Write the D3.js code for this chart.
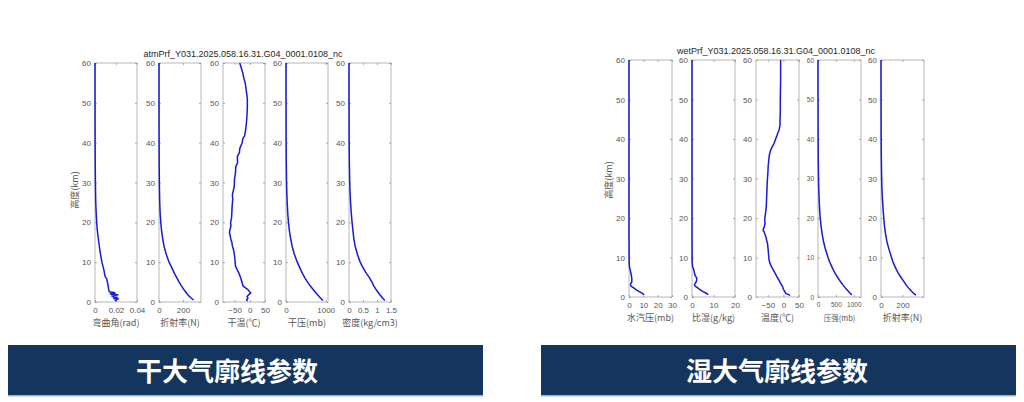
<!DOCTYPE html>
<html><head><meta charset="utf-8">
<script src="https://cdn.jsdelivr.net/npm/d3@7"></script>
<style>body{margin:0;background:#fff}svg{display:block}</style></head>
<body>
<svg id="c" width="1024" height="402"></svg>
<script>
// ---------- DATA ----------
const altTicks = [0,10,20,30,40,50,60];

// Dry atmosphere profiles (altitude km / value)
const dryBendAlt = [0.2,0.5,0.8,1.0,1.2,1.5,1.8,2.0,2.3,2.6,3.0,3.5,4.0,5.0,5.8,6.3,7.0,8.0,10,12,14,16,18,20,22,25,28,30,35,40,50,60];
const dryBend    = [0.0205,0.019,0.0222,0.0175,0.021,0.016,0.0218,0.0145,0.019,0.0135,0.0132,0.0128,0.0126,0.0118,0.0112,0.0098,0.0092,0.0085,0.0066,0.0052,0.0041,0.0031,0.0022,0.0016,0.0012,0.0007,0.0005,0.0004,0.0002,0.0001,0.00003,0.00001];
const dryRefAlt  = [0.5,1,1.5,2,3,4,5,6,7,8,9,10,12,14,16,18,20,22,25,28,30,35,40,50,60];
const dryRef     = [288,268,250,235,210,188,168,150,132,116,100,84,60,42,30,21,15,10,6,4,3,1.5,0.8,0.2,0.05];
const dryTempAlt = [0.2,0.6,1.0,1.4,1.8,2.3,2.7,3.1,3.5,4.0,5.0,5.6,6.5,7.3,8.2,9.0,10,11.5,13,14,15,15.7,16.5,17.5,18.2,19,20,21,22.4,24,25.8,27,29,31,32.4,34,35,36.5,37.5,38.5,40,41,41.7,43,45,47,49,51,53.4,55,56,57.5,58.5,60];
const dryTemp    = [-8,-10,-6,-9,-4,3,-2,-6,-13,-22,-26,-28,-32,-36,-42,-47,-48,-50,-53,-57,-59,-62,-64,-67,-65,-62,-63,-60,-59,-58,-56,-57,-51,-50,-47,-46,-40,-41,-34,-33,-25,-23,-17,-14,-11,-9,-8,-8,-12,-15,-19,-23,-27,-33];
const dryPresAlt = [0.4,1,2,3,4,5,6,7,8,9,10,12,14,16,18,20,22,25,28,30,35,40,50,60];
const dryPres    = [930,870,780,695,615,545,480,425,375,330,285,210,155,115,85,62,46,30,19,14,7,3.5,0.9,0.3];
const dryDensAlt = [0.4,1,2,3,4,5,6,7,8,9,10,12,14,16,18,20,22,25,28,30,35,40,50,60];
const dryDens    = [1.28,1.2,1.08,0.98,0.89,0.82,0.74,0.64,0.55,0.47,0.4,0.3,0.22,0.17,0.14,0.11,0.085,0.055,0.035,0.025,0.012,0.005,0.001,0.0003];

// Wet atmosphere profiles
const wetVapAlt  = [0.6,1.0,1.3,1.7,2.1,2.5,2.7,3.1,3.5,3.8,4.3,4.7,5.1,5.5,6.2,6.8,7.6,8.5,10,15,20,30,40,50,60];
const wetVap     = [10.6,9.0,7.5,5.6,4.0,2.5,1.6,1.0,1.4,1.9,2.0,1.9,1.8,1.6,1.2,0.9,0.3,0.15,0.08,0.02,0.01,0,0,0,0];
const wetHumAlt  = [0.6,1.0,1.3,1.7,2.1,2.5,2.7,3.1,3.5,3.8,4.3,4.7,5.1,5.5,6.2,6.8,7.6,8.5,10,15,20,30,40,50,60];
const wetHum     = [7.6,6.5,5.3,4.2,3.1,2.2,1.6,1.1,1.5,1.9,2.2,2.2,1.9,1.4,1.1,0.9,0.3,0.12,0.05,0.01,0,0,0,0,0];
const wetTempAlt = [0.4,0.85,1.3,1.7,2.1,2.5,3.3,4.2,5.0,5.9,6.8,7.6,8.5,9.3,10.2,11,12,12.7,13.5,14.4,15.2,16,16.5,16.9,17.3,17.8,18.6,19.5,20.3,21.5,22.8,25,27,29,31.3,33,34.7,36,37.2,38,38.9,39.8,40.6,41.5,42.3,43.5,44.8,47,49.9,55,60];
const wetTemp    = [22,8,5,2,-1,-2,-8,-14,-20,-26,-32,-38,-43,-46,-47,-48,-49,-50,-51,-54,-56,-60,-62,-65,-64,-61,-59,-60,-59,-57,-55,-54,-53,-52,-50,-49,-47,-45,-41,-36,-30,-26,-22,-18,-14,-11,-11,-10,-10,-9,-9];
const wetPresAlt = [0.5,1,2,3,4,5,6,7,8,9,10,12,14,16,18,20,22,25,28,30,35,40,50,60];
const wetPres    = [945,890,790,700,618,545,478,420,368,322,280,210,155,115,85,62,46,30,19,14,7,3.5,0.9,0.3];
const wetRefAlt  = [0.5,1,1.5,2,3,4,5,6,7,8,9,10,12,14,16,18,20,22,25,28,30,35,40,50,60];
const wetRef     = [325,300,282,265,235,210,185,162,142,125,110,98,75,55,42,32,26,20,13,8,6,3,1.5,0.4,0.1];

// Axis domains and ticks
const dryDomains = [[0,0.04],[0,350],[-88,50],[0,1060],[0,1.5]];
const dryTicks   = [[0,0.02,0.04],[0,200],[-50,0,50],[0,1000],[0,0.5,1,1.5]];
const dryLabels  = ["弯曲角(rad)","折射率(N)","干温(℃)","干压(mb)","密度(kg/cm3)"];
const wetDomains = [[0,30],[0,20],[-88,50],[0,1200],[0,400]];
const wetTicks   = [[0,10,20,30],[0,10,20],[-50,0,50],[0,500,1000],[0,200]];
const wetLabels  = ["水汽压(mb)","比湿(g/kg)","温度(℃)","压强(mb)","折射率(N)"];

const dryTitle = "atmPrf_Y031.2025.058.16.31.G04_0001.0108_nc";
const wetTitle = "wetPrf_Y031.2025.058.16.31.G04_0001.0108_nc";
const yLabel = "高度(km)";
const bannerTexts = ["干大气廓线参数","湿大气廓线参数"];

// ---------- DRAW ----------
const svg = d3.select("#c");
svg.append("rect").attr("width",1024).attr("height",402).attr("fill","#fff");

const LAT = "'Liberation Sans', Arial, sans-serif";
const CJK = "'Noto Sans CJK SC', sans-serif";
const LINE = "#1a1ad2";

function drawGroup(cfg){
  const y = d3.scaleLinear().domain([0,60]).range([cfg.yBot, cfg.yTop]);
  cfg.series.forEach((s,i)=>{
    const left = cfg.lefts[i], right = left + cfg.width;
    const fs = (cfg.small && cfg.small[i]) ? 6.5 : 8;
    const x = d3.scaleLinear().domain(cfg.domains[i]).range([left,right]);
    const g = svg.append("g");
    g.append("rect").attr("x",left).attr("y",cfg.yTop).attr("width",cfg.width)
      .attr("height",cfg.yBot-cfg.yTop).attr("fill","#fff").attr("stroke","#a6a6a6").attr("stroke-width",0.8);
    const style = sel => {
      sel.select(".domain").remove();
      sel.selectAll(".tick line").attr("stroke","#8c8c8c").attr("stroke-width",0.7);
      sel.selectAll(".tick text").attr("fill","#555").style("font-family",LAT).style("font-size",fs+"px");
    };
    g.append("g").attr("transform",`translate(${left},0)`)
      .call(d3.axisLeft(y).tickValues(altTicks).tickSizeInner(-2).tickSizeOuter(0).tickPadding(4)).call(style);
    g.append("g").attr("transform",`translate(${right},0)`)
      .call(d3.axisRight(y).tickValues(altTicks).tickSizeInner(-2).tickSizeOuter(0).tickFormat("")).call(style);
    g.append("g").attr("transform",`translate(0,${cfg.yBot})`)
      .call(d3.axisBottom(x).tickValues(cfg.ticks[i]).tickSizeInner(-2).tickSizeOuter(0).tickPadding(5).tickFormat(d3.format("~g"))).call(style);
    g.append("g").attr("transform",`translate(0,${cfg.yTop})`)
      .call(d3.axisTop(x).tickValues(cfg.ticks[i]).tickSizeInner(-2).tickSizeOuter(0).tickFormat("")).call(style);
    const pts = d3.zip(s[0], s[1]);
    g.append("path").datum(pts)
      .attr("d", d3.line().x(d=>x(d[1])).y(d=>y(d[0])))
      .attr("fill","none").attr("stroke",LINE).attr("stroke-width",1.5).attr("stroke-linejoin","round");
    g.append("text").attr("x",(left+right)/2).attr("y",cfg.xlabelY)
      .attr("text-anchor","middle").attr("fill","#555")
      .style("font-family",CJK).style("font-size",(fs+1)+"px").text(cfg.labels[i]);
  });
  svg.append("text").attr("x",cfg.titleX).attr("y",cfg.titleY).attr("text-anchor","middle")
    .attr("fill","#262626").style("font-family",LAT).style("font-size","9px").text(cfg.title);
  svg.append("text").attr("transform",`translate(${cfg.ylabelX},${cfg.ylabelY}) rotate(-90)`)
    .attr("text-anchor","middle").attr("fill","#555")
    .style("font-family",CJK).style("font-size","9px").text(yLabel);
}

drawGroup({
  lefts:[95,159,223,286,349], width:42, yTop:63, yBot:302,
  series:[[dryBendAlt,dryBend],[dryRefAlt,dryRef],[dryTempAlt,dryTemp],[dryPresAlt,dryPres],[dryDensAlt,dryDens]],
  domains:dryDomains, ticks:dryTicks, labels:dryLabels,
  xlabelY:326, title:dryTitle, titleX:243, titleY:57, ylabelX:78, ylabelY:190
});
drawGroup({
  lefts:[629,692,756,818,881], width:43, yTop:60, yBot:297,
  series:[[wetVapAlt,wetVap],[wetHumAlt,wetHum],[wetTempAlt,wetTemp],[wetPresAlt,wetPres],[wetRefAlt,wetRef]],
  domains:wetDomains, ticks:wetTicks, labels:wetLabels, small:[false,false,false,true,false],
  xlabelY:321, title:wetTitle, titleX:776, titleY:54, ylabelX:612, ylabelY:180
});

const banners = [{x:8,w:475,tx:227},{x:541,w:475,tx:777}];
banners.forEach((b,i)=>{
  svg.append("rect").attr("x",b.x).attr("y",345).attr("width",b.w).attr("height",51).attr("fill","#14355e");
  svg.append("rect").attr("x",b.x).attr("y",395).attr("width",b.w).attr("height",1.5).attr("fill","#9fb4cf");
  svg.append("text").attr("x",b.tx).attr("y",381).attr("text-anchor","middle").attr("fill","#fff")
    .style("font-family",CJK).style("font-weight","bold").style("font-size","26px").text(bannerTexts[i]);
});
</script>
</body></html>
